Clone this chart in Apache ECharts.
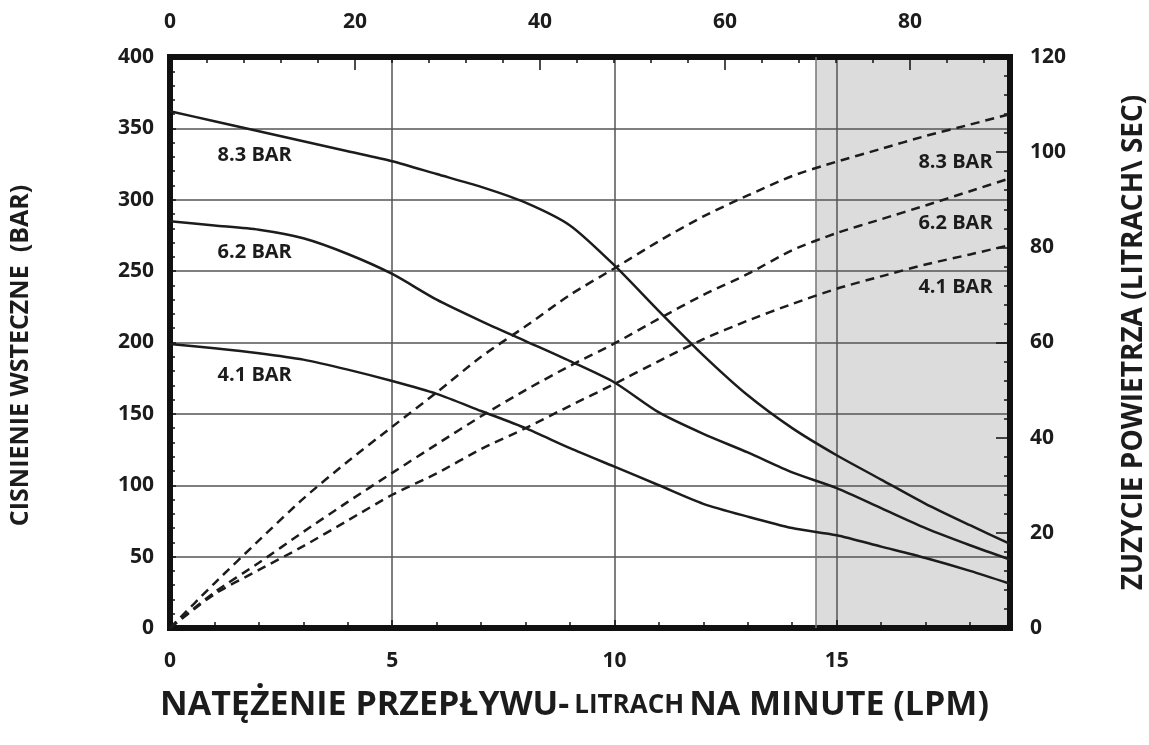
<!DOCTYPE html>
<html>
<head>
<meta charset="utf-8">
<script src="https://cdn.jsdelivr.net/npm/echarts@6/dist/echarts.min.js"></script>
<style>
html,body{margin:0;padding:0;background:#fff;}
#chart{width:1149px;height:745px;}
</style>
</head>
<body>
<div id="chart"></div>
<script>
// Flow (LPM) sample positions
var flow = [0,1,2,3,4,5,6,7,8,9,10,11,12,13,14,15,16,17,18,18.9];
// Back pressure (BAR) – solid curves, left axis
var press83 = [362,355,348,341,334,327,318,309,298,282,254,222,191,163,140,121,104,87,72,59];
var press62 = [285,282,279,273,262,248,230,215,201,187,172,151,136,123,109,98,84,70,58,48];
var press41 = [199,196,192.5,188,181,173,164,152,140,126,113,100,87,78,70,65,57,49,40,31];
// Air consumption – dashed curves, right axis
var air83 = [0,9.4,18.4,27.2,35,42.3,49.5,57,63.4,70,75.6,81.3,86.5,90.9,95,98,100.7,103.4,105.8,108];
var air62 = [0,7.5,13.7,20.2,26.5,32.6,38.6,44.5,50,55.1,59.8,65,70,74.4,79.4,83,85.9,88.8,91.8,94.5];
var air41 = [0,7.1,12.2,17.2,22.6,28,32.5,37.6,42,46.7,51.3,56.1,60.7,64.6,68.1,71.3,73.9,76.4,78.5,80.5];
// Axis ranges / labels
var flowMax = 18.9;
var topMax = 90.8;
var shadeFrom = 14.53;
var seriesNames = ['8.3 BAR','6.2 BAR','4.1 BAR'];
var leftName = 'CISNIENIE WSTECZNE  (BAR)';
var rightName = 'ZUZYCIE POWIETRZA (LITRACH\\ SEC)';
var titleA = 'NATĘŻENIE PRZEPŁYWU-';
var titleB = 'LITRACH';
var titleC = 'NA MINUTE (LPM)';
// Label anchor positions (data coordinates)
var leftLabelX = 1.06, leftLabelY = [331.4, 263.4, 177.2];
var rightLabelX = 18.52, rightLabelY = [97.9, 85.1, 71.5];

function pairs(xs, ys){ return xs.map(function(x,i){ return [x, ys[i]]; }); }

var FONT = '"Open Sans", "Liberation Sans", sans-serif';
var INK = '#1c1c1c';
var labelStyle = {fontFamily: FONT, fontWeight: 'bold', fontSize: 21, color: INK};
var frame = {show:true, onZero:false, lineStyle:{color:'#111', width:6, cap:'square'}};

function solid(name, ys, lx, ly){
  return {
    name: name, type:'line', xAxisIndex:0, yAxisIndex:0,
    data: pairs(flow, ys), showSymbol:false, smooth:0.25,
    lineStyle:{color:INK, width:2.5}, z:5, silent:true,
    markPoint:{
      symbol:'circle', symbolSize:1, itemStyle:{color:'rgba(0,0,0,0)'}, silent:true,
      label:{show:true, position:'right', distance:0, formatter:name,
        fontFamily:FONT, fontWeight:'bold', fontSize:20, color:INK},
      data:[{coord:[lx, ly]}]
    }
  };
}
function dashed(name, ys, lx, ly){
  return {
    name: name+' air', type:'line', xAxisIndex:0, yAxisIndex:1,
    data: pairs(flow, ys), showSymbol:false, smooth:0.25,
    lineStyle:{color:INK, width:2.5, type:[9,6]}, z:5, silent:true,
    markPoint:{
      symbol:'circle', symbolSize:1, itemStyle:{color:'rgba(0,0,0,0)'}, silent:true,
      label:{show:true, position:'left', distance:0, formatter:name,
        fontFamily:FONT, fontWeight:'bold', fontSize:20, color:INK},
      data:[{coord:[lx, ly]}]
    }
  };
}

var chart = echarts.init(document.getElementById('chart'), null, {renderer:'canvas'});
chart.setOption({
  animation:false,
  backgroundColor:'#fff',
  title:{
    left:'center', top:677,
    text:'{a|'+titleA+'} {b|'+titleB+'} {a|'+titleC+'}',
    textStyle:{rich:{
      a:{fontFamily:FONT, fontWeight:'bold', fontSize:34, lineHeight:40, verticalAlign:'bottom', color:INK},
      b:{fontFamily:FONT, fontWeight:'bold', fontSize:26, lineHeight:40, verticalAlign:'bottom', padding:[0,0,3,0], color:INK}
    }}
  },
  grid:{left:170, right:139, top:57, bottom:117, containLabel:false, outerBoundsMode:'none'},
  xAxis:[
    {type:'value', position:'bottom', min:0, max:flowMax, interval:5,
     axisLine:frame,
     axisTick:{show:true, inside:true, length:8, lineStyle:{color:'#111', width:1.5}},
     axisLabel:Object.assign({margin:23, showMaxLabel:false,
       formatter:function(v){ return v%5===0 ? String(v) : ''; }}, labelStyle),
     splitLine:{show:true, lineStyle:{color:'#555', width:1.5}}},
    {type:'value', position:'top', min:0, max:topMax, interval:20,
     axisLine:frame,
     axisTick:{show:true, inside:true, length:13, lineStyle:{color:'#111', width:1.5}},
     axisLabel:Object.assign({margin:24, showMaxLabel:false,
       formatter:function(v){ return v%20===0 ? String(v) : ''; }}, labelStyle),
     splitLine:{show:false}},
    {type:'value', position:'bottom', min:0, max:flowMax, interval:1,
     axisLine:{show:false, onZero:false},
     axisTick:{show:true, inside:true, length:6, lineStyle:{color:'#111', width:1.5}},
     axisLabel:{show:false}, splitLine:{show:false}},
    {type:'value', position:'top', min:0, max:topMax, interval:4,
     axisLine:{show:false, onZero:false},
     axisTick:{show:true, inside:true, length:6, lineStyle:{color:'#111', width:1.5}},
     axisLabel:{show:false}, splitLine:{show:false}}
  ],
  yAxis:[
    {type:'value', position:'left', min:0, max:400, interval:50,
     name:leftName, nameLocation:'middle', nameGap:137, nameRotate:90,
     nameTextStyle:{fontFamily:FONT, fontWeight:'bold', fontSize:25, color:INK, padding:[0,26,0,0]},
     axisLine:frame,
     axisTick:{show:true, inside:true, length:6, lineStyle:{color:'#111', width:1.5}},
     minorTick:{show:true, splitNumber:5, length:5, lineStyle:{color:'#111', width:1.5}},
     axisLabel:Object.assign({margin:16}, labelStyle),
     splitLine:{show:true, lineStyle:{color:'#555', width:1.5}}},
    {type:'value', position:'right', min:0, max:120, interval:20,
     name:rightName, nameLocation:'middle', nameGap:110, nameRotate:90,
     nameTextStyle:{fontFamily:FONT, fontWeight:'bold', fontSize:28, color:INK},
     axisLine:frame,
     axisTick:{show:true, inside:true, length:14, lineStyle:{color:'#111', width:1.5}},
     minorTick:{show:true, splitNumber:5, length:6, lineStyle:{color:'#111', width:1.5}},
     axisLabel:Object.assign({margin:20}, labelStyle),
     splitLine:{show:false}}
  ],
  series:[
    {name:'shade', type:'line', xAxisIndex:0, yAxisIndex:0, data:[], silent:true,
     markArea:{silent:true, z:-1, itemStyle:{color:'#dcdcdc'},
       data:[[{xAxis:shadeFrom},{xAxis:flowMax}]]},
     markLine:{silent:true, symbol:['none','none'], label:{show:false}, z:1,
       lineStyle:{color:'#777', width:1.5, type:'solid'},
       data:[{xAxis:shadeFrom}]}},
    solid(seriesNames[0], press83, leftLabelX, leftLabelY[0]),
    solid(seriesNames[1], press62, leftLabelX, leftLabelY[1]),
    solid(seriesNames[2], press41, leftLabelX, leftLabelY[2]),
    dashed(seriesNames[0], air83, rightLabelX, rightLabelY[0]),
    dashed(seriesNames[1], air62, rightLabelX, rightLabelY[1]),
    dashed(seriesNames[2], air41, rightLabelX, rightLabelY[2])
  ]
});
</script>
</body>
</html>
